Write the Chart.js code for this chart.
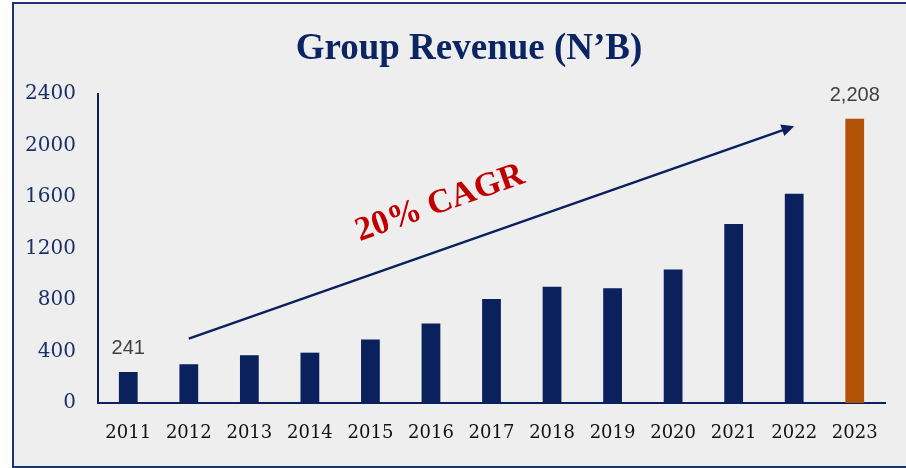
<!DOCTYPE html>
<html>
<head>
<meta charset="utf-8">
<script src="https://cdn.jsdelivr.net/npm/chart.js@4/dist/chart.umd.min.js"></script>
<style>
  html, body { margin: 0; padding: 0; background: #fff; }
  #wrap { width: 906px; height: 468px; position: relative; }
</style>
</head>
<body>
<div id="wrap"><canvas id="revChart" width="906" height="468"></canvas></div>
<script>
// Group revenue, N'B
const years = ["2011", "2012", "2013", "2014", "2015", "2016", "2017", "2018", "2019", "2020", "2021", "2022", "2023"];
const revenue = [241, 301, 371, 391, 493, 617, 807, 902, 892, 1037, 1390, 1626, 2208];
const yTicks = [0, 400, 800, 1200, 1600, 2000, 2400];
const labelledYears = ["2011", "2023"];

// growth arrow, in data terms (category, value)
const arrowFrom = ["2012", 500];
const arrowTo = ["2022", 2150];
const cagrText = "20% CAGR";

const navy = "#0a215e";
const orange = "#b35206";

// paper background + frame + title
const backdrop = {
  id: "backdrop",
  beforeDraw(chart) {
    const ctx = chart.ctx;
    ctx.save();
    ctx.fillStyle = "#ffffff";
    ctx.fillRect(0, 0, chart.width, chart.height);
    ctx.fillStyle = "#eeeeee";
    ctx.fillRect(13, 3, chart.width - 13, chart.height - 3);
    ctx.strokeStyle = "#1b3470";
    ctx.lineWidth = 2;
    ctx.strokeRect(13, 3, chart.width, chart.height - 4);

    ctx.fillStyle = "#0b2563";
    ctx.font = "bold 37px 'Liberation Serif'";
    ctx.textAlign = "center";
    ctx.textBaseline = "alphabetic";
    ctx.fillText("Group Revenue (N\u2019B)", 469, 59);
    ctx.restore();
  }
};

// value labels + CAGR arrow
const extras = {
  id: "extras",
  afterDatasetsDraw(chart) {
    const ctx = chart.ctx;
    const xs = chart.scales.x, ys = chart.scales.y;
    const bars = chart.getDatasetMeta(0).data;
    ctx.save();

    ctx.fillStyle = "#404040";
    ctx.font = "20px 'Liberation Sans'";
    ctx.textAlign = "center";
    ctx.textBaseline = "bottom";
    labelledYears.forEach(y => {
      const i = years.indexOf(y);
      ctx.fillText(revenue[i].toLocaleString("en-US"), bars[i].x, bars[i].y - 13);
    });

    const x1 = xs.getPixelForValue(years.indexOf(arrowFrom[0]));
    const y1 = ys.getPixelForValue(arrowFrom[1]);
    const x2 = xs.getPixelForValue(years.indexOf(arrowTo[0]));
    const y2 = ys.getPixelForValue(arrowTo[1]);
    const ang = Math.atan2(y2 - y1, x2 - x1);
    const head = 14;
    ctx.strokeStyle = navy;
    ctx.fillStyle = navy;
    ctx.lineWidth = 2.5;
    ctx.beginPath();
    ctx.moveTo(x1, y1);
    ctx.lineTo(x2 - head * 0.8 * Math.cos(ang), y2 - head * 0.8 * Math.sin(ang));
    ctx.stroke();
    ctx.beginPath();
    ctx.moveTo(x2, y2);
    ctx.lineTo(x2 - head * Math.cos(ang - 0.45), y2 - head * Math.sin(ang - 0.45));
    ctx.lineTo(x2 - head * Math.cos(ang + 0.45), y2 - head * Math.sin(ang + 0.45));
    ctx.closePath();
    ctx.fill();

    // label sits above the arrow, along its slope
    const cx = xs.getPixelForValue(5.15);
    const cy = ys.getPixelForValue(1550);
    ctx.translate(cx, cy);
    ctx.rotate(-0.34);
    ctx.fillStyle = "#c00000";
    ctx.font = "bold 34px 'Liberation Serif'";
    ctx.textAlign = "center";
    ctx.textBaseline = "middle";
    ctx.fillText(cagrText, 0, 0);
    ctx.restore();
  }
};

new Chart(document.getElementById("revChart"), {
  type: "bar",
  data: {
    labels: years,
    datasets: [{
      label: "Group Revenue",
      data: revenue,
      backgroundColor: years.map(y => y === "2023" ? orange : navy),
      barPercentage: 0.62,
      categoryPercentage: 0.5
    }]
  },
  options: {
    responsive: false,
    animation: false,
    layout: { padding: { top: 94, right: 21, left: 0, bottom: 0 } },
    plugins: { legend: { display: false }, tooltip: { enabled: false } },
    scales: {
      x: {
        grid: { display: false, drawTicks: false },
        border: { color: navy, width: 2 },
        ticks: { color: "#111111", font: { family: "DejaVu Serif", size: 18 }, padding: 20, maxRotation: 0 },
        afterFit(s) { s.height = 65; }
      },
      y: {
        min: 0,
        max: 2400,
        afterBuildTicks(s) { s.ticks = yTicks.map(v => ({ value: v })); },
        grid: { display: false, drawTicks: false },
        border: { color: navy, width: 2 },
        ticks: {
          color: "#1b2f68",
          font: { family: "DejaVu Serif", size: 20 },
          padding: 22,
          callback: v => String(v)
        },
        afterFit(s) { s.width = 98; }
      }
    }
  },
  plugins: [backdrop, extras]
});
</script>
</body>
</html>
